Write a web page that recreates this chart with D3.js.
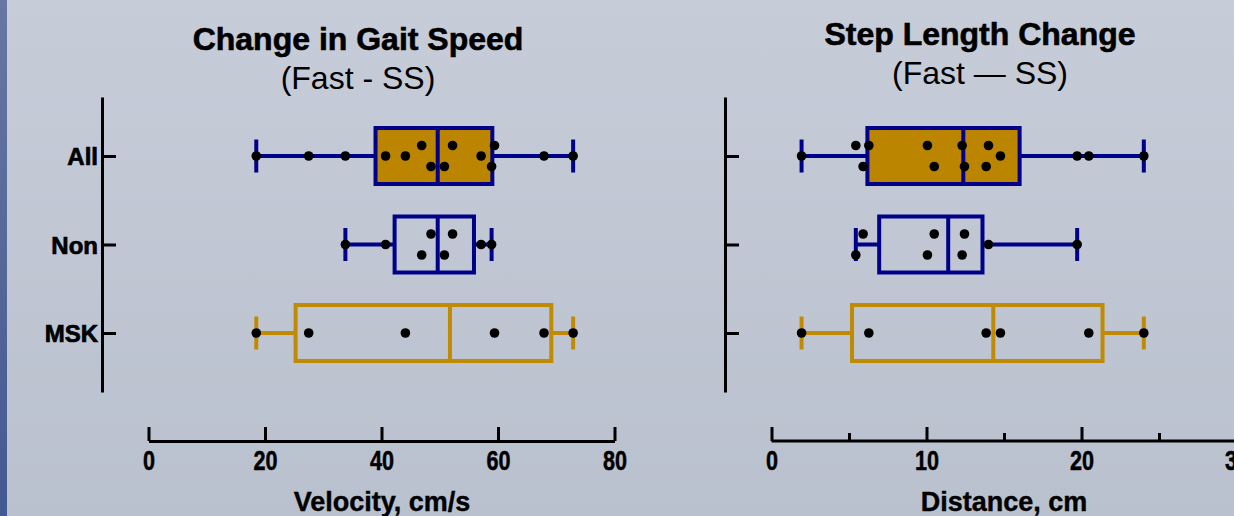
<!DOCTYPE html>
<html><head><meta charset="utf-8">
<script src="https://cdn.jsdelivr.net/npm/d3@7"></script>
<style>
html,body{margin:0;padding:0;overflow:hidden;}
svg{display:block;}
</style></head>
<body>
<svg id="chart" width="1234" height="516"></svg>
<script>
// ---------- DATA ----------
const groups = ["All", "Non", "MSK"];

// Change in gait speed (cm/s)
const speedAll = [18.5, 27.5, 33.8, 40.7, 44.1, 46.9, 48.5, 50.8, 52.2, 57.1, 58.9, 59.4, 67.9, 72.9];
const speedNon = [33.8, 40.7, 46.9, 48.5, 50.8, 52.2, 57.1, 58.9];
const speedMSK = [18.5, 27.5, 44.1, 59.4, 67.9, 72.9];
// scatter lane of each point (-1 above, 0 centre, 1 below)
const speedAllLane = [0, 0, 0, 0, 0, -1, 1, 1, -1, 0, 1, -1, 0, 0];
const speedNonLane = [0, 0, 1, -1, 1, -1, 0, 0];
const speedMSKLane = [0, 0, 0, 0, 0, 0];

// Step length change (cm)
const stepAll = [1.94, 5.44, 5.91, 6.28, 10.06, 10.5, 12.3, 12.45, 13.85, 14.0, 14.77, 19.72, 20.47, 24.02];
const stepNon = [5.44, 5.91, 10.06, 10.5, 12.3, 12.45, 14.0, 19.72];
const stepMSK = [1.94, 6.28, 13.85, 14.77, 20.47, 24.02];
const stepAllLane = [0, -1, 1, -1, -1, 1, -1, 1, 1, -1, 0, 0, 0, 0];
const stepNonLane = [1, -1, 1, -1, 1, -1, 0, 0];
const stepMSKLane = [0, 0, 0, 0, 0, 0];

const speedTicks = [0, 20, 40, 60, 80];
const stepTicks = [0, 10, 20, 30];
const stepMinorTicks = [5, 15, 25];

// ---------- STYLE ----------
const NAVY = "#000088", GOLD = "#bb8500", GOLD_LINE = "#c08b00";
const groupStyle = {
  All: {fill: GOLD, stroke: NAVY},
  Non: {fill: "none", stroke: NAVY},
  MSK: {fill: "none", stroke: GOLD_LINE}
};

const svg = d3.select("#chart");
const defs = svg.append("defs");
const bg = defs.append("linearGradient").attr("id", "bg").attr("x1", 0).attr("x2", 0).attr("y1", 0).attr("y2", 1);
bg.append("stop").attr("offset", "0%").attr("stop-color", "#c6ccd8");
bg.append("stop").attr("offset", "100%").attr("stop-color", "#bac1ce");
const st = defs.append("linearGradient").attr("id", "strip").attr("x1", 0).attr("x2", 0).attr("y1", 0).attr("y2", 1);
st.append("stop").attr("offset", "0%").attr("stop-color", "#6777a2");
st.append("stop").attr("offset", "100%").attr("stop-color", "#435991");

svg.append("rect").attr("width", 1234).attr("height", 516).attr("fill", "url(#bg)");
svg.append("rect").attr("width", 7).attr("height", 516).attr("fill", "url(#strip)");

const FONT = "'Liberation Sans', Arial, Helvetica, sans-serif";

function quant(arr, p) {
  const s = arr.slice().sort((a, b) => a - b);
  const n = s.length;
  let pos = (n + 1) * p;
  if (pos < 1) pos = 1;
  if (pos > n) pos = n;
  const lo = Math.floor(pos), frac = pos - lo;
  if (lo >= n) return s[n - 1];
  return s[lo - 1] + frac * (s[lo] - s[lo - 1]);
}

function heavy(sel, w) {
  return sel.attr("stroke", "#000").attr("stroke-width", w).attr("paint-order", "stroke");
}

function panel(opts) {
  const g = svg.append("g");
  const x = d3.scaleLinear().domain(opts.domain).range(opts.xRange);
  const y = d3.scalePoint().domain(groups).range([97, 392]).padding(0.667);

  // y axis
  const yAx = g.append("g").attr("transform", `translate(${opts.yAxisX},0)`)
    .call(d3.axisRight(y).tickSize(14).tickSizeOuter(0).tickFormat(""));
  yAx.selectAll("path,line").attr("stroke", "#000").attr("stroke-width", 3);

  if (opts.showLabels) {
    heavy(g.selectAll(".glab").data(groups).enter().append("text")
      .attr("x", opts.yAxisX - 4).attr("y", d => y(d) + 9)
      .attr("text-anchor", "end").attr("font-family", FONT).attr("font-weight", "bold")
      .attr("font-size", 24).attr("fill", "#000").text(d => d), 0.7);
  }

  // x axis
  const xAx = g.append("g").attr("transform", `translate(0,441)`)
    .call(d3.axisBottom(x).tickValues(opts.ticks).tickSize(-14).tickSizeOuter(0).tickPadding(10));
  xAx.selectAll("path,line").attr("stroke", "#000").attr("stroke-width", 3);
  if (opts.extendAxis) xAx.select(".domain").attr("d", `M${x(opts.domain[0])},0H1240`);
  heavy(xAx.selectAll("text").attr("font-family", FONT).attr("font-weight", "bold")
    .attr("font-size", 27).attr("fill", "#000")
    .attr("transform", "scale(0.8,1)"), 0.5);
  if (opts.minor) {
    const mAx = g.append("g").attr("transform", `translate(0,441)`)
      .call(d3.axisBottom(x).tickValues(opts.minor).tickSize(-8).tickFormat(""));
    mAx.select(".domain").remove();
    mAx.selectAll("line").attr("stroke", "#000").attr("stroke-width", 3);
  }

  // axis title
  heavy(g.append("text").attr("x", opts.labelX).attr("y", 511).attr("text-anchor", "middle")
    .attr("font-family", FONT).attr("font-weight", "bold").attr("font-size", 27)
    .attr("fill", "#000").text(opts.axisLabel), 0.4);

  // titles
  heavy(g.append("text").attr("x", opts.titleX).attr("y", opts.titleY).attr("text-anchor", "middle")
    .attr("font-family", FONT).attr("font-weight", "bold").attr("font-size", 32)
    .attr("fill", "#000").text(opts.title), 0.6);
  g.append("text").attr("x", opts.titleX).attr("y", opts.titleY + 39).attr("text-anchor", "middle")
    .attr("font-family", FONT).attr("font-size", 32)
    .attr("fill", "#000").text(opts.subtitle);

  // boxes
  const BOXH = 56, CAPH = 33, LANE = 10.5;
  groups.forEach(gr => {
    const vals = opts.data[gr], lanes = opts.lanes[gr];
    const sty = groupStyle[gr];
    const cy = y(gr);
    const mn = d3.min(vals), mx = d3.max(vals);
    const q1 = quant(vals, 0.25), md = quant(vals, 0.5), q3 = quant(vals, 0.75);
    const bgp = g.append("g");
    bgp.append("line").attr("x1", x(mn)).attr("x2", x(q1)).attr("y1", cy).attr("y2", cy)
      .attr("stroke", sty.stroke).attr("stroke-width", 4);
    bgp.append("line").attr("x1", x(q3)).attr("x2", x(mx)).attr("y1", cy).attr("y2", cy)
      .attr("stroke", sty.stroke).attr("stroke-width", 4);
    [mn, mx].forEach(v => bgp.append("line").attr("x1", x(v)).attr("x2", x(v))
      .attr("y1", cy - CAPH / 2).attr("y2", cy + CAPH / 2)
      .attr("stroke", sty.stroke).attr("stroke-width", 4));
    bgp.append("rect").attr("x", x(q1)).attr("y", cy - BOXH / 2)
      .attr("width", x(q3) - x(q1)).attr("height", BOXH)
      .attr("fill", sty.fill).attr("stroke", sty.stroke).attr("stroke-width", 4);
    bgp.append("line").attr("x1", x(md)).attr("x2", x(md))
      .attr("y1", cy - BOXH / 2).attr("y2", cy + BOXH / 2)
      .attr("stroke", sty.stroke).attr("stroke-width", 4);
    bgp.selectAll("circle").data(vals).enter().append("circle")
      .attr("cx", d => x(d)).attr("cy", (d, i) => cy + lanes[i] * LANE)
      .attr("r", 4.8).attr("fill", "#000");
  });
}

panel({
  domain: [0, 80], xRange: [148.5, 614.5], yAxisX: 102, ticks: speedTicks,
  showLabels: true, extendAxis: false,
  data: {All: speedAll, Non: speedNon, MSK: speedMSK},
  lanes: {All: speedAllLane, Non: speedNonLane, MSK: speedMSKLane},
  axisLabel: "Velocity, cm/s", labelX: 382,
  title: "Change in Gait Speed", subtitle: "(Fast - SS)", titleX: 358, titleY: 50
});

panel({
  domain: [0, 30], xRange: [771.5, 1236.5], yAxisX: 725, ticks: stepTicks, minor: stepMinorTicks,
  showLabels: false, extendAxis: true,
  data: {All: stepAll, Non: stepNon, MSK: stepMSK},
  lanes: {All: stepAllLane, Non: stepNonLane, MSK: stepMSKLane},
  axisLabel: "Distance, cm", labelX: 1004,
  title: "Step Length Change", subtitle: "(Fast \u2014 SS)", titleX: 980, titleY: 45
});
</script>
</body></html>
